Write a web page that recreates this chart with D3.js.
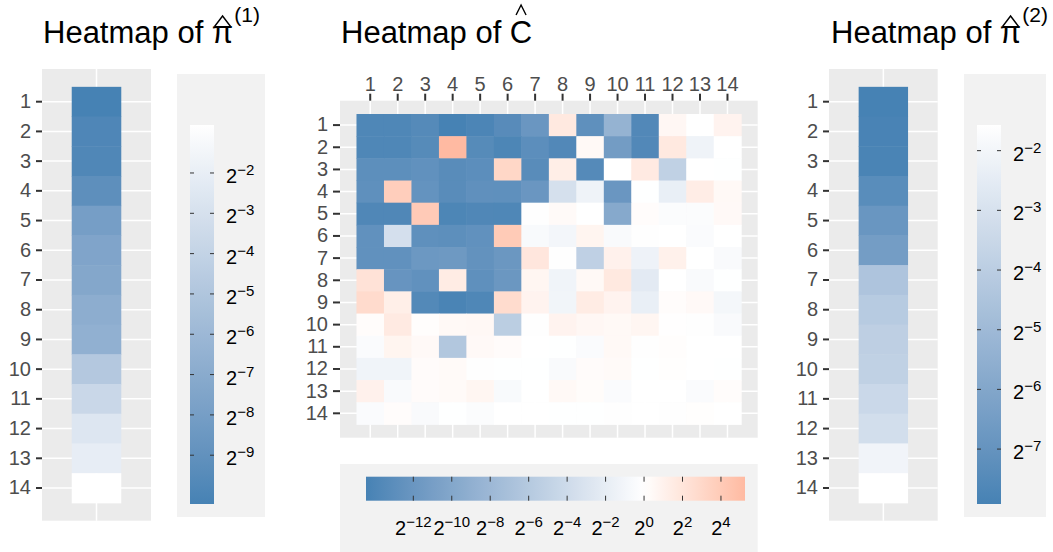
<!DOCTYPE html>
<html>
<head>
<meta charset="utf-8">
<script src="https://cdn.jsdelivr.net/npm/d3@7"></script>
<style>
  body { margin: 0; background: #fff; }
  text { font-family: "Liberation Sans", Arial, sans-serif; }
</style>
</head>
<body>
<svg id="chart"></svg>
<script>
// ---- data (log2 scale) ----
const rowLabels = ["1","2","3","4","5","6","7","8","9","10","11","12","13","14"];

const pi1Log2 = [-10.21, -9.85, -9.8, -9.14, -8.0, -7.5, -7.3, -6.85, -6.6, -4.8, -3.66, -2.6, -2.08, -0.81];
const pi2Log2 = [-7.92, -7.85, -7.8, -7.35, -6.85, -6.5, -4.45, -4.14, -3.9, -3.84, -3.46, -3.18, -2.08, -1.57];

const cLog2 = [
  [-13.9, -13.9, -13.5, -14.46, -14.1, -13.3, -12.0, 1.7, -12.8, -8.6, -13.7, 0.6, 0, 0.9],
  [-13.9, -13.9, -13.4, 5.25, -13.4, -14.0, -13.0, -13.7, 0.5, -11.3, -13.7, 1.7, -1.3, 0],
  [-12.9, -12.9, -12.6, -13.2, -13.0, 3.1, -13.2, 1.3, -13.5, 0, 1.6, -5.1, 0, -0.05],
  [-12.8, 3.75, -12.4, -13.2, -12.7, -12.8, -12.0, -3.4, -1.3, -12.0, -0.05, -1.8, 1.4, 0.5],
  [-13.8, -13.8, 4.05, -14.0, -13.8, -13.9, -0.1, 0.4, 0, -9.8, 0.2, -0.3, -0.3, 0.45],
  [-12.6, -3.5, -12.8, -12.9, -12.6, 4.0, -0.6, -1.0, 0.8, -0.5, -0.1, 0, -0.4, 0],
  [-12.6, -12.6, -11.8, -11.7, -12.5, -11.9, 1.9, -0.1, -5.2, 1.05, -1.4, 1.1, 0, -0.5],
  [2.2, -12.2, -12.6, 1.5, -12.8, -11.9, 0.7, -1.2, 0.5, 1.7, -2.3, 0, -0.5, -0.05],
  [2.8, 1.25, -13.6, -14.2, -13.9, 2.7, 0.9, -1.1, 1.5, 0.9, -1.8, 0.2, 0.45, -0.9],
  [0.2, 1.6, 0.15, 0.5, 0.55, -5.5, -0.1, 0.9, 0.6, 0.5, 0.7, 0.05, -0.1, -0.5],
  [-0.4, 0.8, 0.45, -6.25, 0.45, 0.3, 0, -0.05, -0.4, 0.5, -0.1, 0.15, 0, 0],
  [-1.2, -1.2, 0.3, 0.4, -0.1, -0.05, -0.05, -0.5, 0.3, 0.4, -0.05, 0.1, 0, -0.05],
  [1.05, -0.5, 0.3, 0.4, 0.7, -0.6, 0, 0.5, 0.25, -0.4, 0, 0, -0.4, 0.2],
  [-0.4, 0.2, -0.5, -0.05, -0.3, 0, 0, -0.05, -0.05, -0.1, 0, -0.1, 0.1, 0]
];

const pi1Ticks = [-2, -3, -4, -5, -6, -7, -8, -9];
const pi2Ticks = [-2, -3, -4, -5, -6, -7];
const cTicks = [-12, -10, -8, -6, -4, -2, 0, 2, 4];

// ---- layout ----
const width = 1053, height = 552;
const panelBg = "#EBEBEB", legendBg = "#F2F2F2", tickCol = "#333333", labCol = "#4D4D4D";
const minus = "\u2212";

const svg = d3.select("#chart").attr("width", width).attr("height", height);

function styleAxis(g, size) {
  g.select(".domain").remove();
  g.attr("font-family", null).attr("font-size", null);
  g.selectAll(".tick line").attr("stroke", tickCol).attr("stroke-width", 2);
  g.selectAll(".tick text").attr("fill", labCol).style("font-size", size + "px");
}

function powLabel(sel, exp) {
  sel.text("2");
  sel.append("tspan").attr("dy", -8).style("font-size", "15px")
    .text((exp < 0 ? minus : "") + Math.abs(exp));
}

// title with a hat accent over the last letter, optional superscript
function title(x, main, sup, hat) {
  const base = 42.5;
  const t = svg.append("text").attr("x", x).attr("y", base)
    .style("font-size", "31px").attr("fill", "#000").text(main);
  if (sup) t.append("tspan").attr("dx", 1).attr("dy", -21).style("font-size", "21px").text(sup);
  const box = t.node().getExtentOfChar(main.length - 1);
  const cx = box.x + box.width / 2;
  svg.append("path")
    .attr("d", `M${cx - hat.hw},${base - hat.lo}L${cx},${base - hat.hi}L${cx + hat.hw},${base - hat.lo}`)
    .attr("fill", "none").attr("stroke", "#000").attr("stroke-width", 1.4);
}

// ---- pi panels ----
function piPanel(values, ticks, cfg, id) {
  const g = svg.append("g");
  const y = d3.scaleBand().domain(rowLabels).range([cfg.y0, cfg.y1]).paddingInner(0).paddingOuter(0.6);
  const x = d3.scaleBand().domain(["a"]).range([cfg.x0, cfg.x1]).paddingInner(0).paddingOuter(0.6);
  const ext = d3.extent(values);
  const color = d3.scaleLinear().domain(ext).range(["steelblue", "white"]).interpolate(d3.interpolateLab);

  g.append("rect").attr("x", cfg.x0).attr("y", cfg.y0)
    .attr("width", cfg.x1 - cfg.x0).attr("height", cfg.y1 - cfg.y0).attr("fill", panelBg);

  g.selectAll(".hgrid").data(rowLabels).join("line")
    .attr("x1", cfg.x0).attr("x2", cfg.x1)
    .attr("y1", d => y(d) + y.bandwidth() / 2).attr("y2", d => y(d) + y.bandwidth() / 2)
    .attr("stroke", "#fff").attr("stroke-width", 1.5);
  g.append("line").attr("x1", x("a") + x.bandwidth() / 2).attr("x2", x("a") + x.bandwidth() / 2)
    .attr("y1", cfg.y0).attr("y2", cfg.y1).attr("stroke", "#fff").attr("stroke-width", 1.5);

  g.selectAll(".tile").data(values).join("rect")
    .attr("x", x("a")).attr("width", x.bandwidth())
    .attr("y", (d, i) => y(rowLabels[i])).attr("height", y.bandwidth() + 0.5)
    .attr("fill", d => color(d));

  const ax = g.append("g").attr("transform", `translate(${cfg.x0},0)`)
    .call(d3.axisLeft(y).tickSize(6).tickPadding(5));
  styleAxis(ax, 20);

  // legend
  const L = cfg.legend;
  g.append("rect").attr("x", L.x0).attr("y", L.y0)
    .attr("width", L.x1 - L.x0).attr("height", L.y1 - L.y0).attr("fill", legendBg);
  const ly = d3.scaleLinear().domain(ext).range([L.by1, L.by0]);
  const grad = svg.append("defs").append("linearGradient").attr("id", id)
    .attr("x1", 0).attr("y1", 1).attr("x2", 0).attr("y2", 0);
  d3.range(0, 1.0001, 0.05).forEach(t => {
    grad.append("stop").attr("offset", t).attr("stop-color", color(ext[0] + t * (ext[1] - ext[0])));
  });
  g.append("rect").attr("x", L.bx0).attr("y", L.by0)
    .attr("width", L.bx1 - L.bx0).attr("height", L.by1 - L.by0).attr("fill", `url(#${id})`);
  ticks.forEach(t => {
    [[L.bx0, L.bx0 + 4], [L.bx1 - 4, L.bx1]].forEach(([a, b]) => {
      g.append("line").attr("x1", a).attr("x2", b).attr("y1", ly(t)).attr("y2", ly(t))
        .attr("stroke", tickCol).attr("stroke-width", 1);
    });
    g.append("text").attr("x", L.bx1 + 12).attr("y", ly(t) + 10)
      .style("font-size", "20px").attr("fill", "#000").call(powLabel, t);
  });
}

piPanel(pi1Log2, pi1Ticks, {
  x0: 42, x1: 151, y0: 69, y1: 520.7,
  legend: { x0: 177, x1: 265, y0: 74, y1: 517, bx0: 190, bx1: 214, by0: 125, by1: 504 }
}, "g1");
piPanel(pi2Log2, pi2Ticks, {
  x0: 829, x1: 937.7, y0: 69, y1: 520.7,
  legend: { x0: 964, x1: 1046, y0: 74, y1: 517, bx0: 977, bx1: 1001, by0: 125, by1: 504 }
}, "g2");

const piHat = { hw: 8, hi: 26.5, lo: 16 };
const cHat = { hw: 5, hi: 37.5, lo: 27.5 };
title(43, "Heatmap of \u03C0", "(1)", piHat);
title(831, "Heatmap of \u03C0", "(2)", piHat);
title(341, "Heatmap of C", null, cHat);

// ---- center heatmap ----
(function () {
  const cfg = { x0: 340, x1: 757.7, y0: 100.7, y1: 437.7 };
  const g = svg.append("g");
  const x = d3.scaleBand().domain(rowLabels).range([cfg.x0, cfg.x1]).paddingInner(0).paddingOuter(0.6);
  const y = d3.scaleBand().domain(rowLabels).range([cfg.y0, cfg.y1]).paddingInner(0).paddingOuter(0.6);
  const flat = cLog2.flat();
  const ext = d3.extent(flat);
  const M = d3.max(ext, Math.abs);
  const color = d3.scaleLinear().domain([-M, 0, M]).range(["steelblue", "white", "red"]).interpolate(d3.interpolateLab);

  g.append("rect").attr("x", cfg.x0).attr("y", cfg.y0)
    .attr("width", cfg.x1 - cfg.x0).attr("height", cfg.y1 - cfg.y0).attr("fill", panelBg);
  rowLabels.forEach(d => {
    g.append("line").attr("x1", cfg.x0).attr("x2", cfg.x1)
      .attr("y1", y(d) + y.bandwidth() / 2).attr("y2", y(d) + y.bandwidth() / 2)
      .attr("stroke", "#fff").attr("stroke-width", 1.5);
    g.append("line").attr("y1", cfg.y0).attr("y2", cfg.y1)
      .attr("x1", x(d) + x.bandwidth() / 2).attr("x2", x(d) + x.bandwidth() / 2)
      .attr("stroke", "#fff").attr("stroke-width", 1.5);
  });

  const cells = [];
  cLog2.forEach((row, i) => row.forEach((v, j) => cells.push({ r: rowLabels[i], c: rowLabels[j], v })));
  g.selectAll(".cell").data(cells).join("rect")
    .attr("x", d => x(d.c)).attr("y", d => y(d.r))
    .attr("width", x.bandwidth() + 0.5).attr("height", y.bandwidth() + 0.5)
    .attr("fill", d => color(d.v));

  const ay = g.append("g").attr("transform", `translate(${cfg.x0},0)`)
    .call(d3.axisLeft(y).tickSize(7).tickPadding(5));
  styleAxis(ay, 20);
  const ax = g.append("g").attr("transform", `translate(0,${cfg.y0})`)
    .call(d3.axisTop(x).tickSize(7).tickPadding(3));
  styleAxis(ax, 20);

  // legend
  const L = { x0: 340, x1: 757.7, y0: 464, y1: 552, bx0: 366, bx1: 745, by0: 476.7, by1: 500.7 };
  g.append("rect").attr("x", L.x0).attr("y", L.y0)
    .attr("width", L.x1 - L.x0).attr("height", L.y1 - L.y0).attr("fill", legendBg);
  const lx = d3.scaleLinear().domain(ext).range([L.bx0, L.bx1]);
  const grad = svg.append("defs").append("linearGradient").attr("id", "gc")
    .attr("x1", 0).attr("y1", 0).attr("x2", 1).attr("y2", 0);
  d3.range(0, 1.0001, 0.025).forEach(t => {
    grad.append("stop").attr("offset", t).attr("stop-color", color(ext[0] + t * (ext[1] - ext[0])));
  });
  g.append("rect").attr("x", L.bx0).attr("y", L.by0)
    .attr("width", L.bx1 - L.bx0).attr("height", L.by1 - L.by0).attr("fill", "url(#gc)");
  cTicks.forEach(t => {
    [[L.by0, L.by0 + 5], [L.by1 - 5, L.by1]].forEach(([a, b]) => {
      g.append("line").attr("x1", lx(t)).attr("x2", lx(t)).attr("y1", a).attr("y2", b)
        .attr("stroke", tickCol).attr("stroke-width", 1);
    });
    g.append("text").attr("x", lx(t)).attr("y", 535).attr("text-anchor", "middle")
      .style("font-size", "20px").attr("fill", "#000").call(powLabel, t);
  });
})();
</script>
</body>
</html>
